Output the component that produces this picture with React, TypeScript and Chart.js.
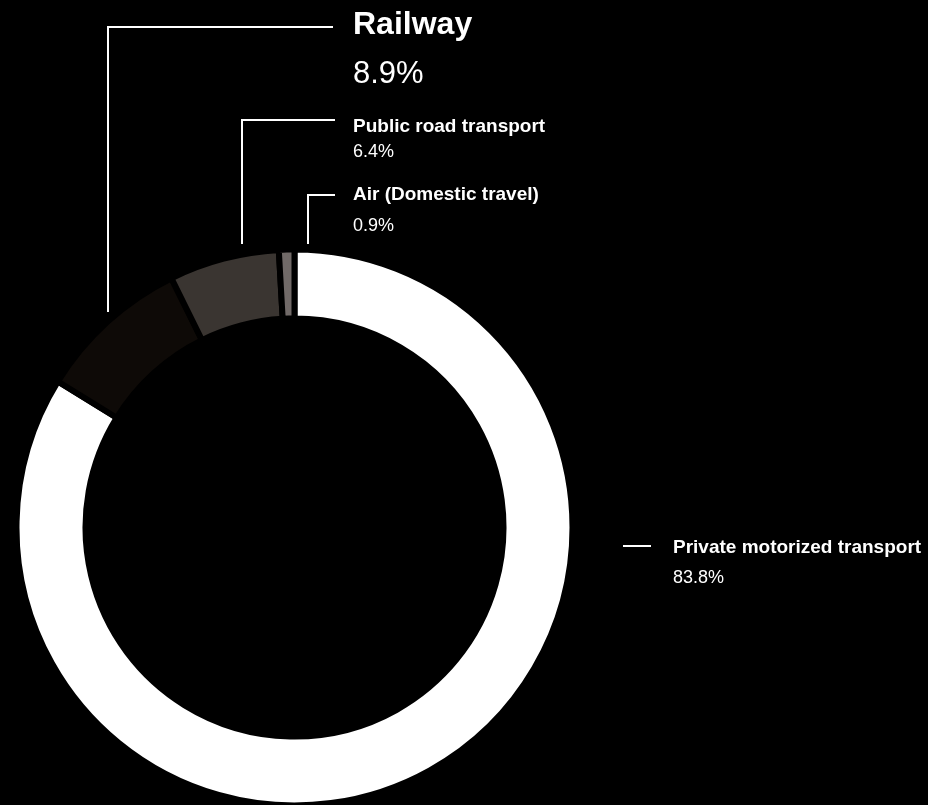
import React, { useEffect, useRef } from "react";
import { Chart, registerables } from "chart.js";

Chart.register(...registerables);

// ---- data ----
const categories = [
  "Private motorized transport",
  "Railway",
  "Public road transport",
  "Air (Domestic travel)",
];
const shares = [83.8, 8.9, 6.4, 0.9];
const shareLabels = ["83.8%", "8.9%", "6.4%", "0.9%"];
const segmentColors = ["#ffffff", "#0e0a07", "#3a3531", "#716a68"];

// ---- callout layout (annotation positions, per category) ----
type Callout = {
  line: [number, number][];
  tx: number;
  titleY: number;
  valueY: number;
  titleSize: number;
  valueSize: number;
};
const callouts: Callout[] = [
  { line: [[623, 546], [651, 546]], tx: 673, titleY: 553, valueY: 583, titleSize: 19, valueSize: 18 },
  { line: [[108, 312], [108, 27], [333, 27]], tx: 353, titleY: 34, valueY: 83, titleSize: 32, valueSize: 31 },
  { line: [[242, 244], [242, 120], [335, 120]], tx: 353, titleY: 132, valueY: 157, titleSize: 19, valueSize: 18 },
  { line: [[308, 244], [308, 195], [335, 195]], tx: 353, titleY: 200, valueY: 231, titleSize: 19, valueSize: 18 },
];

const FONT = '"Liberation Sans", Arial, Helvetica, sans-serif';

const calloutPlugin = {
  id: "callouts",
  afterDraw(chart: any) {
    const ctx: CanvasRenderingContext2D = chart.ctx;
    ctx.save();
    ctx.strokeStyle = "#ffffff";
    ctx.fillStyle = "#ffffff";
    ctx.lineWidth = 2;
    ctx.lineJoin = "miter";
    ctx.lineCap = "butt";
    callouts.forEach((c, i) => {
      ctx.beginPath();
      c.line.forEach(([x, y], k) => (k === 0 ? ctx.moveTo(x, y) : ctx.lineTo(x, y)));
      ctx.stroke();
      ctx.textAlign = "left";
      ctx.textBaseline = "alphabetic";
      ctx.font = `bold ${c.titleSize}px ${FONT}`;
      ctx.fillText(categories[i], c.tx, c.titleY);
      ctx.font = `normal ${c.valueSize}px ${FONT}`;
      ctx.fillText(shareLabels[i], c.tx, c.valueY);
    });
    ctx.restore();
  },
};

export default function App() {
  const canvasRef = useRef<HTMLCanvasElement | null>(null);

  useEffect(() => {
    if (!canvasRef.current) return;
    const chart = new Chart(canvasRef.current, {
      type: "doughnut",
      data: {
        labels: categories,
        datasets: [
          {
            data: shares,
            backgroundColor: segmentColors,
            borderColor: "#000000",
            borderWidth: 6,
            borderJoinStyle: "miter",
            hoverOffset: 0,
          } as any,
        ],
      },
      options: {
        responsive: false,
        animation: false,
        rotation: 0,
        circumference: 360,
        radius: 278,
        cutout: "75.18%",
        layout: { padding: { left: 0, right: 339, top: 250, bottom: 0 } },
        plugins: {
          legend: { display: false },
          tooltip: { enabled: false },
        },
        events: [],
      } as any,
      plugins: [calloutPlugin],
    });
    return () => chart.destroy();
  }, []);

  return (
    <div
      style={{
        position: "absolute",
        left: 0,
        top: 0,
        width: 928,
        height: 805,
        background: "#000000",
        overflow: "hidden",
      }}
    >
      <canvas ref={canvasRef} width={928} height={805} style={{ display: "block" }} />
    </div>
  );
}
